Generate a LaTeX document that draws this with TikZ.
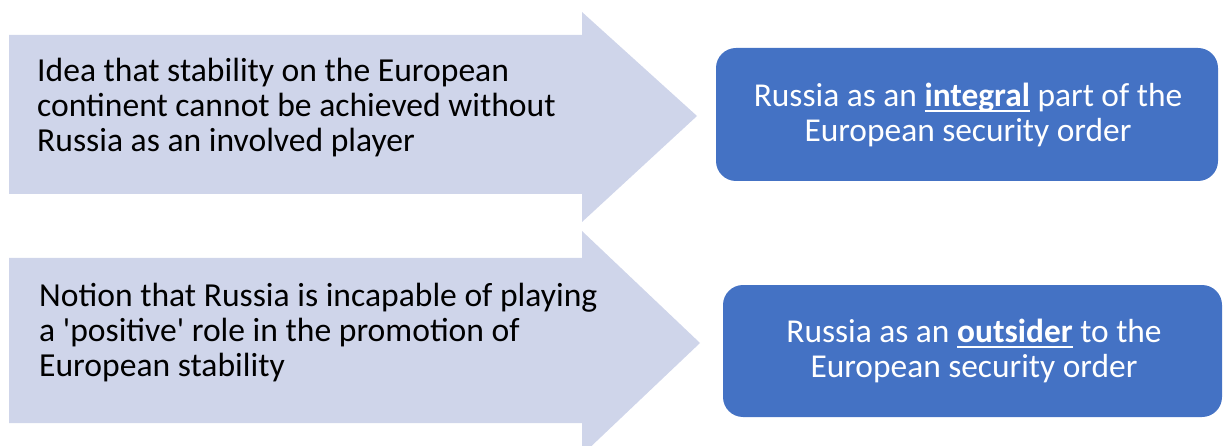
\documentclass[tikz,border=0pt]{standalone}
\usepackage{fontspec}
\setmainfont{Carlito}
\newsavebox{\ulbox}
\newcommand{\myul}[1]{\sbox{\ulbox}{#1}\rlap{\usebox{\ulbox}}\rule[-0.16em]{\wd\ulbox}{0.06em}}
\definecolor{arrowfill}{HTML}{CFD5EA}
\definecolor{boxblue}{HTML}{4472C4}
\begin{document}
\begin{tikzpicture}[x=1pt,y=-1pt,
  arrowshape/.style={fill=arrowfill,draw=none},
  arrowtext/.style={anchor=west,align=left,inner sep=0pt,font=\fontsize{33.6}{35}\selectfont,text=black},
  bluebox/.style={fill=boxblue,draw=none,rounded corners=20pt},
  boxtext/.style={align=center,inner sep=0pt,font=\fontsize{33.4}{35}\selectfont,text=white}]
\useasboundingbox (0,0) rectangle (1228,446);
% arrows
\path[arrowshape] (9,35) -- (582,35) -- (582,12) -- (697,116) -- (582,222) -- (582,194) -- (9,194) -- cycle;
\path[arrowshape] (9,258) -- (582,258) -- (582,231) -- (700,343) -- (582,455) -- (582,423) -- (9,423) -- cycle;
\node[arrowtext] (t1) at (37,108) {Idea that stability on the European\\continent cannot be achieved without\\Russia as an involved player};
\node[arrowtext] (t2) at (39,333) {Notion that Russia is incapable of playing\\a \textquotesingle positive\textquotesingle{} role in the promotion of\\European stability};
% boxes
\path[bluebox] (716,48) rectangle (1218,181);
\path[bluebox] (723,285) rectangle (1222,417);
\node[boxtext] (b1) at (968,115) {Russia as an \myul{\textbf{integral}} part of the\\European security order};
\node[boxtext] (b2) at (974,351) {Russia as an \myul{\textbf{outsider}} to the\\European security order};
\end{tikzpicture}
\end{document}
